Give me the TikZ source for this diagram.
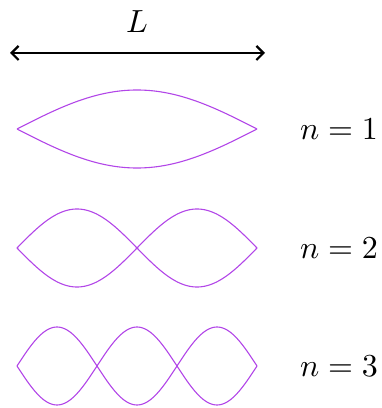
\documentclass[tikz,border=0pt]{standalone}
\usetikzlibrary{arrows.meta}
\definecolor{wavecol}{RGB}{178,70,232}
\newcommand{\bigtxt}[1]{\scalebox{3.2}{#1}}
\begin{document}
\begin{tikzpicture}[x=1pt,y=1pt,
  wave/.style={draw=wavecol, line width=1.1pt, line join=round},
  lbl/.style={inner sep=0pt},
  dim/.style={line width=2.2pt, {Straight Barb[length=7pt,width=14pt]}-{Straight Barb[length=7pt,width=14pt]}}]
\useasboundingbox (0,0) rectangle (382,408);
\coordinate (aL) at (10,355);
\coordinate (aR) at (265,355);
\draw[dim] (aL) -- (aR);
\node[lbl] (Ltxt) at (137,386) {\bigtxt{$L$}};
\foreach \n/\yc in {1/279, 2/160, 3/42}{
  \draw[wave] plot[domain=0:240, samples=121] ({17+\x},{\yc+39*sin(\n*0.75*\x)});
  \draw[wave] plot[domain=0:240, samples=121] ({17+\x},{\yc-39*sin(\n*0.75*\x)});
  \node[lbl] (lab\n) at (339,\yc) {\bigtxt{$n=\n$}};
}
\end{tikzpicture}
\end{document}
